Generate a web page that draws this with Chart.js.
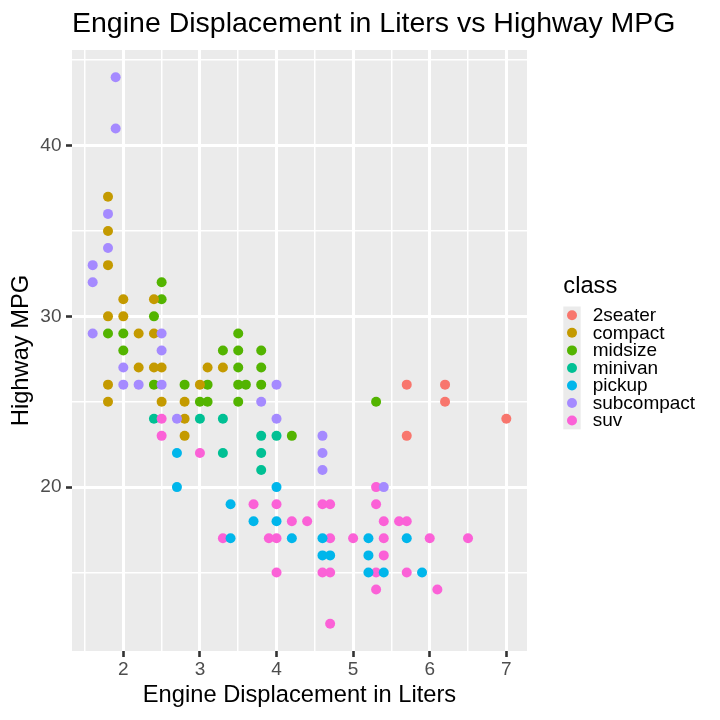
<!DOCTYPE html>
<html>
<head>
<meta charset="utf-8">
<script src="https://cdn.jsdelivr.net/npm/chart.js@4.4.1/dist/chart.umd.min.js"></script>
<style>
  body { margin: 0; background: #ffffff; }
  canvas { display: block; }
</style>
</head>
<body>
<canvas id="mpgChart" width="720" height="720"></canvas>
<script>
// classes and their ggplot hue colours
const classes = ['2seater', 'compact', 'midsize', 'minivan', 'pickup', 'subcompact', 'suv'];
const classColors = ['#F8766D', '#C49A00', '#53B400', '#00C094', '#00B6EB', '#A58AFF', '#FB61D7'];

// displacement (x) and highway mpg (y), one pair of arrays per class
const displ2seater = [5.7, 5.7, 6.2, 6.2, 7.0];
const hwy2seater = [26, 23, 26, 25, 24];

const displCompact = [1.8, 1.8, 1.8, 1.8, 1.8, 1.8, 2.0, 2.0, 2.2, 2.2, 2.4, 2.4, 2.4, 2.5, 2.5, 2.8, 2.8, 2.8, 3.0, 3.1, 3.3];
const hwyCompact = [37, 35, 33, 30, 26, 25, 31, 30, 29, 27, 31, 29, 27, 27, 25, 25, 24, 23, 26, 27, 27];

const displMidsize = [1.8, 2.0, 2.0, 2.4, 2.4, 2.5, 2.5, 2.8, 3.0, 3.1, 3.1, 3.3, 3.5, 3.5, 3.5, 3.5, 3.5, 3.6, 3.8, 3.8, 3.8, 4.2, 5.3];
const hwyMidsize = [29, 29, 28, 30, 26, 32, 31, 26, 25, 26, 25, 28, 29, 28, 27, 26, 25, 26, 28, 27, 26, 23, 25];

const displMinivan = [2.4, 3.0, 3.3, 3.3, 3.8, 3.8, 3.8, 4.0];
const hwyMinivan = [24, 24, 24, 22, 23, 22, 21, 23];

const displPickup = [2.7, 2.7, 3.4, 3.4, 3.7, 4.0, 4.0, 4.2, 4.6, 4.6, 4.7, 5.2, 5.2, 5.2, 5.4, 5.7, 5.9];
const hwyPickup = [22, 20, 19, 17, 18, 20, 18, 17, 17, 16, 16, 17, 16, 15, 15, 17, 15];

const displSubcompact = [1.6, 1.6, 1.6, 1.8, 1.8, 1.9, 1.9, 2.0, 2.0, 2.2, 2.5, 2.5, 2.5, 2.7, 3.8, 4.0, 4.0, 4.6, 4.6, 4.6, 5.4];
const hwySubcompact = [33, 32, 29, 36, 34, 44, 41, 27, 26, 26, 29, 28, 26, 24, 25, 26, 24, 23, 22, 21, 20];

const displSuv = [2.5, 2.5, 3.0, 3.3, 3.7, 3.9, 4.0, 4.0, 4.0, 4.2, 4.4, 4.6, 4.6, 4.7, 4.7, 4.7, 4.7, 5.0, 5.3, 5.3, 5.3, 5.3, 5.4, 5.4, 5.4, 5.6, 5.7, 5.7, 6.0, 6.1, 6.5];
const hwySuv = [24, 23, 22, 17, 19, 17, 19, 17, 15, 18, 18, 19, 15, 19, 17, 15, 12, 17, 20, 19, 15, 14, 18, 17, 16, 18, 18, 15, 17, 14, 17];

// axis breaks (major get labels, minor only grid lines)
const xMajorTicks = [2, 3, 4, 5, 6, 7];
const xMinorTicks = [1.5, 2.5, 3.5, 4.5, 5.5, 6.5];
const yMajorTicks = [20, 30, 40];
const yMinorTicks = [15, 25, 35, 45];

const displByClass = [displ2seater, displCompact, displMidsize, displMinivan, displPickup, displSubcompact, displSuv];
const hwyByClass = [hwy2seater, hwyCompact, hwyMidsize, hwyMinivan, hwyPickup, hwySubcompact, hwySuv];
// drawing order: lower number ends up on top
const drawOrder = [7, 2, 6, 5, 3, 1, 4];

const FONT = '"Liberation Sans", Arial, Helvetica, sans-serif';

const datasets = classes.map((c, i) => ({
  label: c,
  data: displByClass[i].map((x, j) => ({ x: x, y: hwyByClass[i][j] })),
  backgroundColor: classColors[i],
  borderWidth: 0,
  pointRadius: 5,
  order: drawOrder[i]
}));

// grey panel behind the plot area
const panelBg = {
  id: 'panelBg',
  beforeDraw(chart) {
    const { ctx, chartArea: a } = chart;
    ctx.save();
    ctx.fillStyle = '#EBEBEB';
    ctx.fillRect(a.left, a.top, a.right - a.left, a.bottom - a.top);
    ctx.restore();
  }
};

// title on the left of the panel + ggplot style legend on the right
const decorations = {
  id: 'decorations',
  afterDraw(chart) {
    const { ctx, chartArea: a } = chart;
    ctx.save();
    ctx.fillStyle = '#000000';
    ctx.textAlign = 'left';
    ctx.textBaseline = 'middle';
    ctx.font = '28.5px ' + FONT;
    ctx.fillText('Engine Displacement in Liters vs Highway MPG', a.left, 24);

    const keyX = 563.3, keyW = 17.4, keyH = 17.55, firstTop = 306.5;
    ctx.textBaseline = 'alphabetic';
    ctx.font = '23.7px ' + FONT;
    ctx.fillText('class', keyX, 292.5);

    ctx.fillStyle = '#EBEBEB';
    ctx.fillRect(keyX, firstTop, keyW, keyH * classes.length);

    ctx.font = '19px ' + FONT;
    ctx.textBaseline = 'middle';
    classes.forEach((c, i) => {
      const cy = firstTop + keyH * i + keyH / 2;
      ctx.fillStyle = classColors[i];
      ctx.beginPath();
      ctx.arc(keyX + keyW / 2, cy, 5, 0, Math.PI * 2);
      ctx.fill();
      ctx.fillStyle = '#000000';
      ctx.fillText(c, 592.7, cy + 0.5);
    });
    ctx.restore();
  }
};

const isMajorX = (v) => xMajorTicks.includes(v);
const isMajorY = (v) => yMajorTicks.includes(v);

const chart = new Chart(document.getElementById('mpgChart'), {
  type: 'scatter',
  data: { datasets: datasets },
  plugins: [panelBg, decorations],
  options: {
    responsive: false,
    animation: false,
    events: [],
    layout: { padding: { top: 50, right: 193, left: 0, bottom: 0 } },
    plugins: {
      legend: { display: false },
      tooltip: { enabled: false },
      title: { display: false }
    },
    scales: {
      x: {
        type: 'linear',
        min: 1.33,
        max: 7.27,
        afterBuildTicks: (scale) => {
          scale.ticks = xMinorTicks.concat(xMajorTicks).sort((a, b) => a - b).map(v => ({ value: v }));
        },
        afterFit: (scale) => { scale.height = 69; },
        border: { display: false },
        grid: {
          color: '#FFFFFF',
          lineWidth: (ctx) => (ctx.tick && isMajorX(ctx.tick.value) ? 3 : 1.5),
          tickLength: 6,
          tickWidth: 2.6,
          tickColor: (ctx) => (ctx.tick && isMajorX(ctx.tick.value) ? '#333333' : 'rgba(0,0,0,0)')
        },
        ticks: {
          autoSkip: false,
          maxRotation: 0,
          padding: 1,
          color: '#4D4D4D',
          font: { family: FONT, size: 19, lineHeight: 1.2 },
          callback: (v) => (isMajorX(v) ? String(v) : '')
        },
        title: {
          display: true,
          text: 'Engine Displacement in Liters',
          color: '#000000',
          font: { family: FONT, size: 23.7, lineHeight: 1.2 },
          padding: { top: 0, bottom: 10 }
        }
      },
      y: {
        type: 'linear',
        min: 10.4,
        max: 45.6,
        afterBuildTicks: (scale) => {
          scale.ticks = yMinorTicks.concat(yMajorTicks).sort((a, b) => a - b).map(v => ({ value: v }));
        },
        afterFit: (scale) => { scale.width = 72; },
        border: { display: false },
        grid: {
          color: '#FFFFFF',
          lineWidth: (ctx) => (ctx.tick && isMajorY(ctx.tick.value) ? 3 : 1.5),
          tickLength: 6,
          tickWidth: 2.6,
          tickColor: (ctx) => (ctx.tick && isMajorY(ctx.tick.value) ? '#333333' : 'rgba(0,0,0,0)')
        },
        ticks: {
          autoSkip: false,
          padding: 4.5,
          color: '#4D4D4D',
          font: { family: FONT, size: 19, lineHeight: 1.2 },
          callback: (v) => (isMajorY(v) ? String(v) : '')
        },
        title: {
          display: true,
          text: 'Highway MPG',
          color: '#000000',
          font: { family: FONT, size: 23.7, lineHeight: 1.2 },
          padding: { top: 7, bottom: 0 }
        }
      }
    }
  }
});
</script>
</body>
</html>
